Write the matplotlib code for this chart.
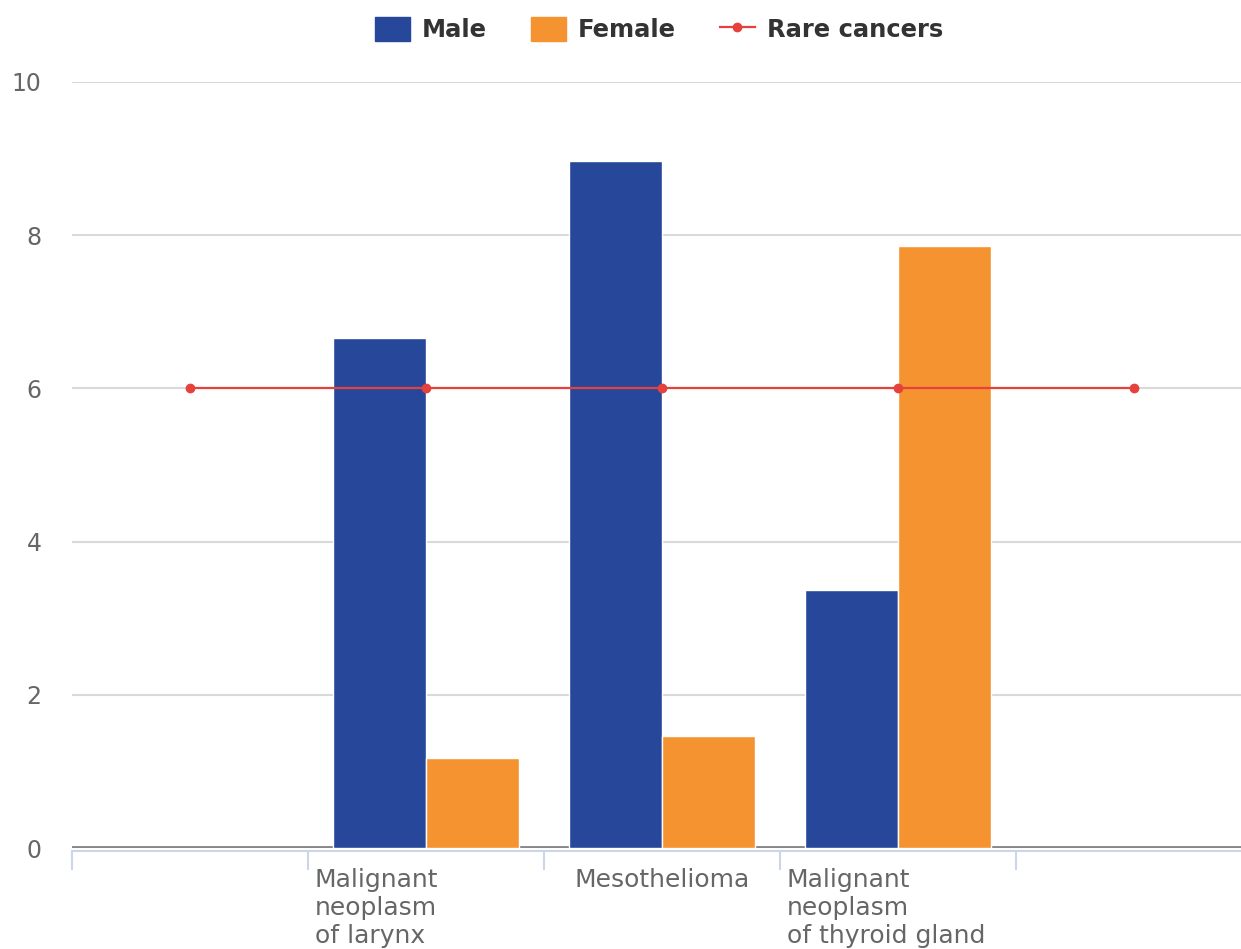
import matplotlib
matplotlib.use("Agg")
import matplotlib.pyplot as plt
import numpy as np

plt.rcParams["font.family"] = ["DejaVu Sans"]

categories = ["", "Malignant\nneoplasm\nof larynx", "Mesothelioma",
              "Malignant\nneoplasm\nof thyroid gland", ""]
male = [None, 6.66, 8.97, 3.37, None]
female = [None, 1.17, 1.46, 7.86, None]
rare = [6, 6, 6, 6, 6]
yticks = [0, 2, 4, 6, 8, 10]

male_color = "#26479a"
female_color = "#f59330"
rare_color = "#e5413d"

W, H = 1241, 949
fig = plt.figure(figsize=(W / 100, H / 100), dpi=100)
# the last category runs a little past the right edge of the figure
ax = fig.add_axes([72 / W, (H - 848) / H, (1252 - 72) / W, (848 - 82) / H])

x = np.arange(len(categories))
bw = 0.395
for i in range(len(categories)):
    if male[i] is not None:
        ax.bar(x[i] - bw / 2, male[i], bw, color=male_color,
               edgecolor="white", linewidth=1, zorder=3)
    if female[i] is not None:
        ax.bar(x[i] + bw / 2, female[i], bw, color=female_color,
               edgecolor="white", linewidth=1, zorder=3)

ax.plot(x, rare, color=rare_color, lw=1.6, marker="o", ms=6, zorder=4)

ax.set_xlim(-0.5, len(categories) - 0.5)
ax.set_ylim(0, 10)
ax.set_yticks(yticks)
ax.set_yticklabels([str(v) for v in yticks])
for v in yticks[1:]:
    ax.axhline(v, color="#d9d9d9", lw=1.5, zorder=1)
ax.axhline(0, color="#888888", lw=2.8, zorder=1)

for s in ["top", "right", "left"]:
    ax.spines[s].set_visible(False)
ax.spines["bottom"].set_color("#ccd6eb")
ax.spines["bottom"].set_linewidth(1.5)
ax.spines["bottom"].set_position(("outward", 2.2))

ax.set_xticks(np.arange(len(categories) + 1) - 0.5)
ax.set_xticklabels([])
ax.tick_params(axis="x", length=14, width=1.5, color="#ccd6eb")
ax.tick_params(axis="y", length=0, pad=22, labelsize=17, labelcolor="#666666")

for i, lab in enumerate(categories):
    if not lab:
        continue
    if "\n" in lab:
        ax.annotate(lab, xy=(x[i] - 0.5, 0), xycoords=("data", "axes fraction"),
                    xytext=(5, -14.5), textcoords="offset points",
                    ha="left", va="top", fontsize=18, color="#666666",
                    linespacing=1.22)
    else:
        ax.annotate(lab, xy=(x[i], 0), xycoords=("data", "axes fraction"),
                    xytext=(0, -14.5), textcoords="offset points",
                    ha="center", va="top", fontsize=18, color="#666666")

handles = [
    plt.Rectangle((0, 0), 1, 1, color=male_color),
    plt.Rectangle((0, 0), 1, 1, color=female_color),
    plt.Line2D([], [], color=rare_color, lw=1.6, marker="o", ms=6),
]
leg = fig.legend(handles, ["Male", "Female", "Rare cancers"], loc="upper center",
                 bbox_to_anchor=(0.531, 1.005), ncol=3, frameon=False,
                 prop={"weight": "bold", "size": 17.5}, handlelength=1.45,
                 handleheight=1.15, handletextpad=0.5, columnspacing=1.8)
for t in leg.get_texts():
    t.set_color("#333333")

fig.savefig("out.png", dpi=100)
